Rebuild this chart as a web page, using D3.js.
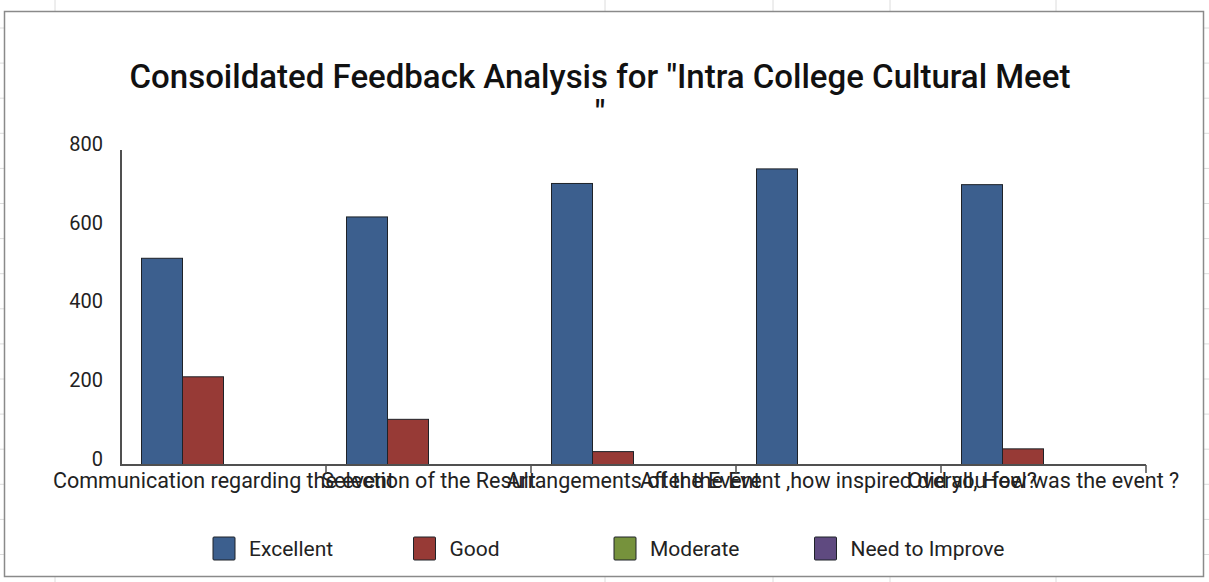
<!DOCTYPE html>
<html>
<head>
<meta charset="utf-8">
<script src="https://cdn.jsdelivr.net/npm/d3@7/dist/d3.min.js"></script>
<style>
  html, body { margin: 0; padding: 0; background: #fff; }
  svg { display: block; font-family: Roboto, "Noto Sans", sans-serif; }
</style>
</head>
<body>
<svg id="chart" width="1209" height="582"></svg>
<script>
// ---- data ----
const categories = [
  "Communication regarding the event",
  "Selection of the Result",
  "Arrangements of the Event",
  "After the Event ,how inspired did you feel?",
  "Overall, How was the event ?"
];
const seriesNames = ["Excellent", "Good", "Moderate", "Need to Improve"];
const excellent = [525, 630, 715, 752, 712];
const good = [224, 116, 34, 0, 41];
const moderate = [0, 0, 0, 0, 0];
const needToImprove = [0, 0, 0, 0, 0];
const seriesColors = ["#3c5f8e", "#973a36", "#76923c", "#5f4a80"];
const yTicks = [0, 200, 400, 600, 800];
const titleLines = ["Consoildated Feedback Analysis for \"Intra College Cultural Meet", "\""];

const seriesValues = [excellent, good, moderate, needToImprove];
const rows = categories.map((c, i) => ({
  cat: c,
  vals: seriesNames.map((s, j) => ({ s, v: seriesValues[j][i], color: seriesColors[j] }))
}));

const W = 1209, H = 582;
const svg = d3.select("#chart");

// spreadsheet background grid
const bg = svg.append("g");
const colLines = [55, 605, 773, 890, 1056];
const rowLines = d3.range(28, 582, 35.1);
bg.selectAll("line.c").data(colLines).join("line")
  .attr("x1", d => d).attr("x2", d => d).attr("y1", 0).attr("y2", H)
  .attr("stroke", "#dcdcdc").attr("stroke-width", 1);
bg.selectAll("line.r").data(rowLines).join("line")
  .attr("x1", 0).attr("x2", W).attr("y1", d => d).attr("y2", d => d)
  .attr("stroke", "#dcdcdc").attr("stroke-width", 1);

// chart area
svg.append("rect")
  .attr("x", 4.5).attr("y", 11.5).attr("width", 1199).attr("height", 565)
  .attr("fill", "#fff").attr("stroke", "#8a8a8a").attr("stroke-width", 1.5);

// title
svg.append("g").selectAll("text").data(titleLines).join("text")
  .attr("x", 600).attr("y", (d, i) => 88 + i * 36)
  .attr("text-anchor", "middle")
  .attr("font-size", 33).attr("font-weight", 500).attr("fill", "#111")
  .text(d => d);

// scales
const x0 = d3.scaleBand().domain(categories).range([121, 1146]).padding(0);
const x1 = d3.scaleBand().domain(seriesNames).range([0, x0.bandwidth()])
  .paddingInner(0).paddingOuter(0.5);
const y = d3.scaleLinear().domain([0, 800]).range([465, 150]);

// bars
const groups = svg.append("g").selectAll("g").data(rows).join("g")
  .attr("transform", d => `translate(${x0(d.cat)},0)`);
groups.selectAll("rect").data(d => d.vals.filter(v => v.v > 0)).join("rect")
  .attr("x", d => x1(d.s))
  .attr("y", d => y(d.v))
  .attr("width", x1.bandwidth())
  .attr("height", d => y(0) - y(d.v))
  .attr("fill", d => d.color)
  .attr("stroke", "#1e2228").attr("stroke-width", 1);

// y axis
const yAxis = svg.append("g").attr("transform", "translate(121,0)")
  .call(d3.axisLeft(y).tickValues(yTicks).tickSize(0).tickPadding(18));
yAxis.select(".domain").remove();
yAxis.selectAll("text").attr("font-size", 20).attr("fill", "#222")
  .attr("font-family", "Roboto, sans-serif")
  .attr("transform", "translate(0,-6)");
svg.append("line").attr("x1", 121).attr("x2", 121).attr("y1", 150).attr("y2", 465)
  .attr("stroke", "#505050").attr("stroke-width", 2);

// x axis
const xAxis = svg.append("g").attr("transform", "translate(0,465)")
  .call(d3.axisBottom(x0).tickSize(0).tickPadding(8));
xAxis.select(".domain").remove();
xAxis.selectAll("text").attr("font-size", 21.5).attr("fill", "#222")
  .attr("font-family", "Roboto, sans-serif");
svg.append("line").attr("x1", 120).attr("x2", 1146).attr("y1", 465).attr("y2", 465)
  .attr("stroke", "#505050").attr("stroke-width", 2);
const bounds = categories.map(c => x0(c)).concat([x0(categories[categories.length - 1]) + x0.bandwidth()]);
svg.append("g").selectAll("line").data(bounds.slice(1)).join("line")
  .attr("x1", d => d).attr("x2", d => d).attr("y1", 465).attr("y2", 473)
  .attr("stroke", "#505050").attr("stroke-width", 1.5);

// legend
const legend = svg.append("g").selectAll("g").data(seriesNames).join("g")
  .attr("transform", (d, i) => `translate(${213 + i * 200.5},537)`);
legend.append("rect").attr("width", 22).attr("height", 23).attr("rx", 1)
  .attr("fill", (d, i) => seriesColors[i]).attr("stroke", "#1e2228").attr("stroke-width", 1);
legend.append("text").attr("x", 36).attr("y", 18.5)
  .attr("font-size", 21).attr("fill", "#222").text(d => d);
</script>
</body>
</html>
